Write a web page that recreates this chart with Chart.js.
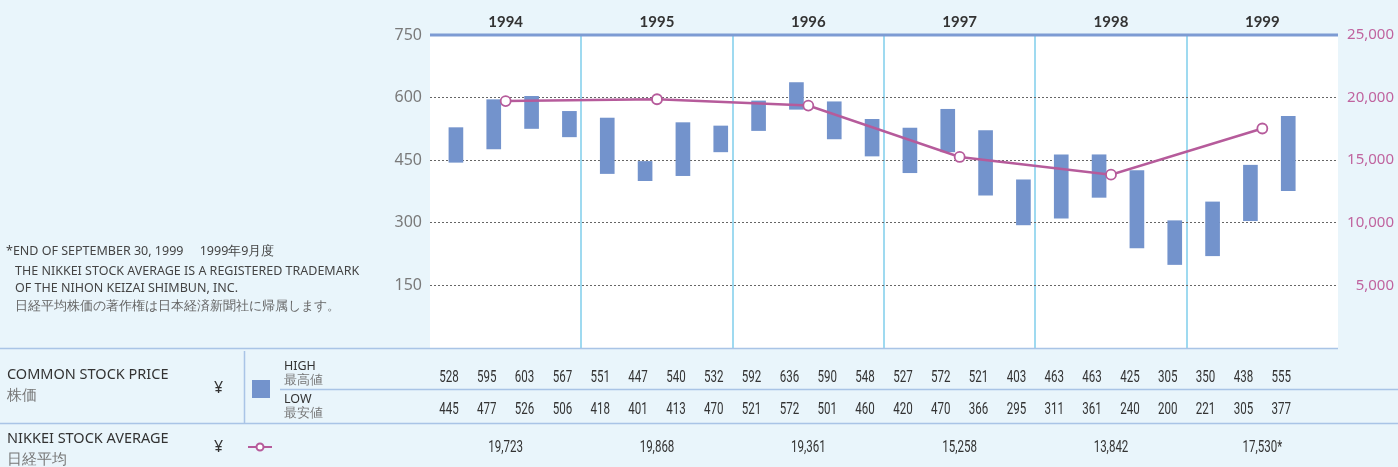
<!DOCTYPE html>
<html>
<head>
<meta charset="utf-8">
<script src="https://cdn.jsdelivr.net/npm/chart.js@4/dist/chart.umd.min.js"></script>
<style>
  html, body { margin: 0; padding: 0; background: #e9f5fb; }
  #chart { display: block; }
</style>
</head>
<body>
<canvas id="chart" width="1398" height="467"></canvas>
<script>
const years = ['1994', '1995', '1996', '1997', '1998', '1999'];
const quarters = ['94Q1', '94Q2', '94Q3', '94Q4', '95Q1', '95Q2', '95Q3', '95Q4', '96Q1', '96Q2', '96Q3', '96Q4',
  '97Q1', '97Q2', '97Q3', '97Q4', '98Q1', '98Q2', '98Q3', '98Q4', '99Q1', '99Q2', '99Q3', '99Q4'];
const highs = [528, 595, 603, 567, 551, 447, 540, 532, 592, 636, 590, 548, 527, 572, 521, 403, 463, 463, 425, 305, 350, 438, 555];
const lows = [445, 477, 526, 506, 418, 401, 413, 470, 521, 572, 501, 460, 420, 470, 366, 295, 311, 361, 240, 200, 221, 305, 377];
const nikkei = [19723, 19868, 19361, 15258, 13842, 17530];
const nikkeiLabels = ['19,723', '19,868', '19,361', '15,258', '13,842', '17,530*'];

const BAR = '#7393cc';
const PINK = '#b65b9b';
const LINE_BLUE = '#a9c4e6';

// condensed text: regular face squeezed horizontally
function narrowText(ctx, text, x, y, size, sx) {
  ctx.save();
  ctx.translate(x, y);
  ctx.scale(sx, 1);
  ctx.font = size + 'px Roboto, "Noto Sans", sans-serif';
  ctx.fillText(text, 0, 0);
  ctx.restore();
}

const pageBg = {
  id: 'pageBg',
  beforeDraw(chart) {
    const { ctx, chartArea: a } = chart;
    ctx.save();
    ctx.fillStyle = '#e9f5fb';
    ctx.fillRect(0, 0, chart.width, chart.height);
    ctx.fillStyle = '#ffffff';
    ctx.fillRect(a.left, a.top, a.right - a.left, a.bottom - a.top);
    ctx.restore();
  }
};

const tablePlugin = {
  id: 'table',
  afterDraw(chart) {
    const { ctx, chartArea: a } = chart;
    const xs = chart.scales.x;
    const xl = chart.scales.xl;
    ctx.save();

    // top blue rule
    ctx.strokeStyle = '#7d9bd3';
    ctx.lineWidth = 3;
    ctx.beginPath();
    ctx.moveTo(a.left, a.top);
    ctx.lineTo(a.right, a.top);
    ctx.stroke();

    // table rules
    ctx.strokeStyle = LINE_BLUE;
    ctx.lineWidth = 1.5;
    ctx.beginPath();
    ctx.moveTo(0, 348.5); ctx.lineTo(a.right, 348.5);
    ctx.moveTo(280, 389.5); ctx.lineTo(1398, 389.5);
    ctx.moveTo(0, 423.5); ctx.lineTo(1398, 423.5);
    ctx.moveTo(244.5, 351); ctx.lineTo(244.5, 423);
    ctx.stroke();

    // notes on the left
    ctx.textBaseline = 'middle';
    ctx.textAlign = 'left';
    ctx.fillStyle = '#444';
    ctx.font = '12.5px "Noto Sans", sans-serif';
    ctx.fillText('*END OF SEPTEMBER 30, 1999\u3000 1999年9月度', 6, 251);
    ctx.fillText('THE NIKKEI STOCK AVERAGE IS A REGISTERED TRADEMARK', 15, 271);
    ctx.fillText('OF THE NIHON KEIZAI SHIMBUN, INC.', 15, 288);
    ctx.fillStyle = '#666';
    ctx.fillText('日経平均株価の著作権は日本経済新聞社に帰属します。', 15, 306);

    // row headers
    ctx.fillStyle = '#333';
    ctx.font = '14.5px "Noto Sans", sans-serif';
    ctx.fillText('COMMON STOCK PRICE', 7, 375);
    ctx.fillText('NIKKEI STOCK AVERAGE', 7, 439);
    ctx.fillStyle = '#777';
    ctx.fillText('株価', 7, 396);
    ctx.fillText('日経平均', 7, 460);
    ctx.fillStyle = '#333';
    ctx.font = '16px "Noto Sans", sans-serif';
    ctx.fillText('¥', 214, 388);
    ctx.fillText('¥', 214, 447);

    ctx.font = '12.5px "Noto Sans", sans-serif';
    ctx.fillStyle = '#333';
    ctx.fillText('HIGH', 284, 366);
    ctx.fillText('LOW', 284, 399);
    ctx.fillStyle = '#777';
    ctx.fillText('最高値', 284, 380);
    ctx.fillText('最安値', 284, 413);

    // legend marks
    ctx.fillStyle = BAR;
    ctx.fillRect(252, 380, 18, 18);
    ctx.strokeStyle = PINK;
    ctx.lineWidth = 2;
    ctx.beginPath();
    ctx.moveTo(248, 447); ctx.lineTo(272, 447);
    ctx.stroke();
    ctx.beginPath();
    ctx.arc(260, 447, 3.5, 0, Math.PI * 2);
    ctx.fillStyle = '#fff';
    ctx.fill();
    ctx.stroke();

    // values
    ctx.textAlign = 'center';
    ctx.fillStyle = '#333';
    highs.forEach((h, i) => narrowText(ctx, String(h), xs.getPixelForValue(i), 378, 16.5, 0.7));
    lows.forEach((l, i) => narrowText(ctx, String(l), xs.getPixelForValue(i), 410, 16.5, 0.7));
    nikkeiLabels.forEach((t, i) => narrowText(ctx, t, xl.getPixelForValue(i + 0.5), 448, 16.5, 0.7));

    ctx.restore();
  }
};

new Chart(document.getElementById('chart').getContext('2d'), {
  data: {
    labels: quarters,
    datasets: [
      {
        type: 'line',
        label: 'NIKKEI STOCK AVERAGE',
        xAxisID: 'xl',
        yAxisID: 'y2',
        data: nikkei.map((v, i) => ({ x: i + 0.5, y: v })),
        borderColor: PINK,
        borderWidth: 2.5,
        pointRadius: 5,
        pointBorderWidth: 1.8,
        pointBackgroundColor: '#fff',
        pointBorderColor: PINK,
        tension: 0,
        order: 0
      },
      {
        type: 'bar',
        label: 'COMMON STOCK PRICE',
        xAxisID: 'x',
        yAxisID: 'y',
        data: highs.map((h, i) => [lows[i], h]),
        backgroundColor: BAR,
        barThickness: 14,
        borderSkipped: false,
        order: 1
      }
    ]
  },
  options: {
    responsive: false,
    animation: false,
    layout: { padding: { top: 0, left: 0, right: 4, bottom: 119 } },
    plugins: { legend: { display: false }, tooltip: { enabled: false } },
    scales: {
      x: { type: 'category', display: false, offset: true },
      xl: { type: 'linear', display: false, min: 0, max: 6 },
      yr: {
        type: 'linear', position: 'top', min: 0, max: 6,
        afterBuildTicks: s => { s.ticks = years.map((y, i) => ({ value: i + 0.5 })); },
        afterFit: s => { s.height = 35; },
        grid: { display: false, drawTicks: false },
        border: { display: false },
        ticks: {
          color: '#333',
          font: { family: 'Lato, "Open Sans", sans-serif', size: 15, weight: 'bold' },
          padding: 4,
          callback: v => years[Math.floor(v)]
        }
      },
      xg: {
        type: 'linear', position: 'bottom', min: 0, max: 6,
        afterBuildTicks: s => { s.ticks = [1, 2, 3, 4, 5].map(v => ({ value: v })); },
        afterFit: s => { s.height = 0; },
        grid: { color: '#9fdaf0', lineWidth: 2, drawTicks: false },
        border: { display: false },
        ticks: { display: false }
      },
      y: {
        position: 'left', min: 0, max: 750,
        afterFit: s => { s.width = 430; },
        grid: {
          color: c => (c.tick && c.tick.value > 0 && c.tick.value < 750) ? '#666' : 'rgba(0,0,0,0)',
          lineWidth: 1,
          drawTicks: false
        },
        border: { display: false, dash: [2, 2] },
        ticks: {
          stepSize: 150,
          padding: 8,
          color: '#7a7a7a',
          font: { family: '"Noto Sans", sans-serif', size: 16 },
          callback: v => v === 0 ? '' : v
        }
      },
      y2: {
        position: 'right', min: 0, max: 25000,
        afterFit: s => { s.width = 56; },
        grid: { display: false },
        border: { display: false },
        ticks: {
          stepSize: 5000,
          crossAlign: 'far',
          color: '#c0649f',
          font: { family: '"Noto Sans", sans-serif', size: 15 },
          callback: v => v === 0 ? '' : v.toLocaleString('en-US')
        }
      }
    }
  },
  plugins: [pageBg, tablePlugin]
});
</script>
</body>
</html>
